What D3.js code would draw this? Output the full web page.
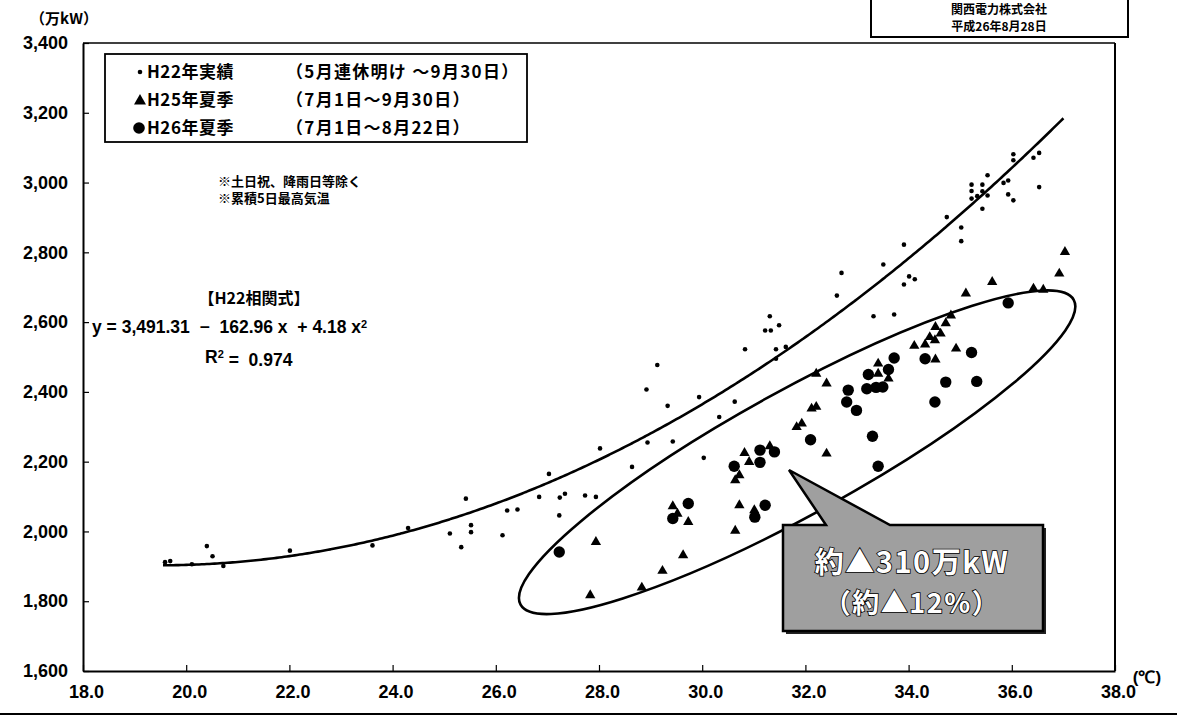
<!DOCTYPE html>
<html><head><meta charset="utf-8">
<script src="https://cdn.jsdelivr.net/npm/d3@7"></script>
<style>body{margin:0;background:#fff}svg{display:block}</style>
</head><body>
<script>
// ---- data ----
const xTickValues = [18,20,22,24,26,28,30,32,34,36,38];
const yTickValues = [1600,1800,2000,2200,2400,2600,2800,3000,3200,3400];

const h22Temp = [19.59,19.69,20.11,20.40,20.51,20.72,22.01,23.61,24.30,25.11,25.33,25.42,25.52,25.52,26.13,26.22,26.42,26.84,27.24,27.34,27.23,27.73,27.94,27.03,28.02,28.64,28.94,29.43,30.03,28.92,29.33,29.94,30.33,30.63,29.13,30.83,31.43,31.62,31.31,31.22,31.33,31.49,31.43,32.61,32.70,33.32,33.72,33.51,33.91,34.01,34.12,33.91,34.74,35.02,35.02,35.22,35.43,35.22,35.43,35.33,35.22,35.53,35.53,35.84,35.93,35.93,36.03,36.53,35.43,36.03,36.03,36.42,36.53];
const h22Load = [1912,1915,1906,1958,1929,1901,1945,1960,2010,1994,1955,2094,2018,1998,1989,2060,2063,2099,2097,2108,2046,2103,2099,2165,2238,2185,2255,2258,2211,2407,2360,2385,2328,2372,2477,2522,2522,2529,2617,2576,2576,2591,2495,2676,2741,2617,2622,2765,2822,2731,2723,2708,2901,2871,2832,2994,2994,2976,2975,2961,2954,2963,3021,2999,3006,2966,2949,2987,2925,3081,3064,3071,3085];

const h25Temp = [32.41,32.12,32.21,31.83,31.93,32.41,30.82,30.91,30.64,30.72,30.72,30.64,29.43,29.52,29.73,27.94,29.63,29.23,28.83,27.83,31.01,31.31,37.03,36.92,35.62,35.11,36.42,36.61,34.82,34.72,34.52,34.62,34.41,34.51,34.32,34.11,34.92,34.52,33.41,33.41,33.61,32.21];
const h25Load = [2424,2352,2357,2299,2309,2223,2225,2199,2147,2161,2075,2002,2072,2051,2027,1970,1932,1887,1839,1817,2061,2244,2801,2739,2715,2682,2696,2693,2619,2597,2586,2567,2557,2548,2536,2532,2524,2493,2481,2452,2438,2452];

const h26Temp = [32.83,32.80,32.10,31.12,31.40,31.12,30.62,29.73,29.43,31.22,31.02,27.23,35.93,35.22,33.72,34.32,33.61,33.22,33.19,33.37,33.50,32.99,34.72,35.32,34.51,33.30,33.41];
const h26Load = [2405,2371,2263,2233,2228,2198,2187,2080,2037,2075,2041,1941,2655,2513,2497,2495,2464,2450,2409,2413,2414,2347,2428,2430,2371,2273,2187];

const fitCoef = [3491.31, -162.96, 4.18];   // H22 regression y = a + b x + c x^2
const fitRange = [19.55, 37.0];

const legendLabels = ["H22年実績","H25年夏季","H26年夏季"];
const legendPeriods = ["（5月連休明け ～9月30日）","（7月1日～9月30日）","（7月1日～8月22日）"];

// ---- layout ----
const W = 1177, H = 720;
const M = {left:83, right:1115, top:43, bottom:671};
const numFont = "'Liberation Sans', Arial, sans-serif";
const jpFont = "'Noto Sans CJK JP', 'Noto Sans', sans-serif";

const svg = d3.select("body").append("svg").attr("width",W).attr("height",H)
  .style("background","#fff");

const x = d3.scaleLinear().domain([18,38]).range([M.left, M.right]);
const y = d3.scaleLinear().domain([1600,3400]).range([M.bottom, M.top]);

// frame
svg.append("line").attr("x1",M.left).attr("x2",M.right).attr("y1",M.top).attr("y2",M.top)
  .attr("stroke","#000").attr("stroke-width",1.5);
svg.append("line").attr("x1",M.right).attr("x2",M.right).attr("y1",M.top).attr("y2",M.bottom)
  .attr("stroke","#000").attr("stroke-width",2);

// axes
const yAxis = svg.append("g").attr("transform",`translate(${M.left},0)`)
  .call(d3.axisLeft(y).tickValues(yTickValues).tickSizeInner(-6).tickSizeOuter(0)
    .tickPadding(15).tickFormat(d3.format(",")));
const xAxis = svg.append("g").attr("transform",`translate(0,${M.bottom})`)
  .call(d3.axisBottom(x).tickValues(xTickValues).tickSizeInner(-6).tickSizeOuter(0)
    .tickPadding(14).tickFormat(d3.format(".1f")));
[yAxis,xAxis].forEach(g=>{
  g.select(".domain").attr("stroke","#000").attr("stroke-width",2);
  g.selectAll(".tick line").attr("stroke","#000").attr("stroke-width",1.2);
  g.selectAll(".tick text").attr("fill","#000").style("font-family",numFont)
    .style("font-weight","bold").style("font-size","18px");
});
xAxis.selectAll(".tick text").attr("dx","3");

// unit labels
svg.append("text").attr("x",64).attr("y",19).attr("dy","0.35em").attr("text-anchor","middle")
  .style("font-family",jpFont).style("font-weight","bold").style("font-size","15px").text("（万kW）");
svg.append("text").attr("x",1147).attr("y",677).attr("dy","0.35em").attr("text-anchor","middle")
  .style("font-family",numFont).style("font-weight","bold").style("font-size","17px").text("(℃)");

// regression curve
const curvePts = d3.range(fitRange[0], fitRange[1]+0.001, 0.05)
  .map(t => [t, fitCoef[0] + fitCoef[1]*t + fitCoef[2]*t*t]);
svg.append("path").datum(curvePts)
  .attr("d", d3.line().x(d=>x(d[0])).y(d=>y(d[1])).curve(d3.curveBasis))
  .attr("fill","none").attr("stroke","#000").attr("stroke-width",2.6);

// ellipse annotation (defined in data units: centre and end of major axis)
const ellCenter = [31.84, 2227], ellTip = [37.2, 2664], ellHalfWidthPx = 62;
{
  const cx = x(ellCenter[0]), cy = y(ellCenter[1]);
  const tx = x(ellTip[0]), ty = y(ellTip[1]);
  const a = Math.hypot(tx-cx, ty-cy);
  const ang = Math.atan2(ty-cy, tx-cx)*180/Math.PI;
  svg.append("ellipse").attr("cx",0).attr("cy",0).attr("rx",a).attr("ry",ellHalfWidthPx)
    .attr("transform",`translate(${cx},${cy}) rotate(${ang})`)
    .attr("fill","none").attr("stroke","#000").attr("stroke-width",2.6);
}

// points
svg.append("g").selectAll("circle").data(h22Temp.map((t,i)=>[t,h22Load[i]])).join("circle")
  .attr("cx",d=>x(d[0])).attr("cy",d=>y(d[1])).attr("r",2.3).attr("fill","#000");
const tri = d3.symbol().type(d3.symbolTriangle).size(46);
svg.append("g").selectAll("path").data(h25Temp.map((t,i)=>[t,h25Load[i]])).join("path")
  .attr("d",tri).attr("transform",d=>`translate(${x(d[0])},${y(d[1])})`).attr("fill","#000");
svg.append("g").selectAll("circle").data(h26Temp.map((t,i)=>[t,h26Load[i]])).join("circle")
  .attr("cx",d=>x(d[0])).attr("cy",d=>y(d[1])).attr("r",5.7).attr("fill","#000");

// legend
svg.append("rect").attr("x",105).attr("y",54).attr("width",422).attr("height",88)
  .attr("fill","#fff").attr("stroke","#000").attr("stroke-width",1.8);
const rowsY = [72,100,128];
legendLabels.forEach((lab,i)=>{
  const g = svg.append("g");
  if(i===0) g.append("circle").attr("cx",140).attr("cy",rowsY[i]).attr("r",2.3).attr("fill","#000");
  if(i===1) g.append("path").attr("d",d3.symbol().type(d3.symbolTriangle).size(62)())
      .attr("transform",`translate(140,${rowsY[i]+1})`).attr("fill","#000");
  if(i===2) g.append("circle").attr("cx",139).attr("cy",rowsY[i]).attr("r",5.8).attr("fill","#000");
  g.append("text").attr("x",147).attr("y",rowsY[i]).attr("dy","0.35em")
    .style("font-family",jpFont).style("font-weight","bold").style("font-size","17px")
    .style("letter-spacing","0.5px").text(lab);
  g.append("text").attr("x",286).attr("y",rowsY[i]).attr("dy","0.35em")
    .style("font-family",jpFont).style("font-weight","bold").style("font-size","17px")
    .style("letter-spacing","1.3px").text(legendPeriods[i]);
});

// notes
[["※土日祝、降雨日等除く",181],["※累積5日最高気温",198]].forEach(([t,yy])=>{
  svg.append("text").attr("x",218).attr("y",yy).attr("dy","0.35em")
    .style("font-family",jpFont).style("font-weight","bold").style("font-size","13px").text(t);
});

// equation
svg.append("text").attr("x",254).attr("y",298).attr("dy","0.35em").attr("text-anchor","middle")
  .style("font-family",jpFont).style("font-weight","bold").style("font-size","16px").text("【H22相関式】");
const eq = svg.append("text").attr("x",92).attr("y",327).attr("dy","0.35em")
  .style("font-family",numFont).style("font-weight","bold").style("font-size","17.5px")
  .attr("xml:space","preserve");
eq.append("tspan").text("y = 3,491.31  \u2212  162.96 x  + 4.18 x");
eq.append("tspan").attr("dy","-0.45em").style("font-size","11px").text("2");
const r2 = svg.append("text").attr("x",205).attr("y",357).attr("dy","0.35em")
  .style("font-family",numFont).style("font-weight","bold").style("font-size","17.5px")
  .attr("xml:space","preserve");
r2.append("tspan").text("R");
r2.append("tspan").attr("dy","-0.45em").style("font-size","11px").text("2");
r2.append("tspan").attr("dy","0.45em").text(" =  0.974");

// callout
svg.append("rect").attr("x",786).attr("y",528).attr("width",260).attr("height",106).attr("fill","#222");
svg.append("path")
  .attr("d","M783,525 L826,525 L789,470 L890,525 L1043,525 L1043,631 L783,631 Z")
  .attr("fill","#9f9f9f").attr("stroke","#000").attr("stroke-width",2.5).attr("stroke-linejoin","miter");
[["約▲310万kW",563,29],["（約▲12%）",604,27]].forEach(([t,yy,fs])=>{
  svg.append("text").attr("x",912).attr("y",yy).attr("dy","0.35em").attr("text-anchor","middle")
    .style("font-family",jpFont).style("font-weight","bold").style("font-size",fs+"px")
    .attr("fill","#fff").attr("stroke","#000").attr("stroke-width",1.6)
    .style("paint-order","stroke").style("letter-spacing","1.5px").text(t);
});

// header box
svg.append("rect").attr("x",871).attr("y",-3).attr("width",257).attr("height",40)
  .attr("fill","#fff").attr("stroke","#000").attr("stroke-width",2);
[["関西電力株式会社",10],["平成26年8月28日",27]].forEach(([t,yy])=>{
  svg.append("text").attr("x",999).attr("y",yy).attr("dy","0.35em").attr("text-anchor","middle")
    .style("font-family",jpFont).style("font-weight","bold").style("font-size","12px").text(t);
});

// bottom page rule
svg.append("line").attr("x1",0).attr("x2",W).attr("y1",714).attr("y2",714)
  .attr("stroke","#000").attr("stroke-width",2);
</script>
</body></html>
